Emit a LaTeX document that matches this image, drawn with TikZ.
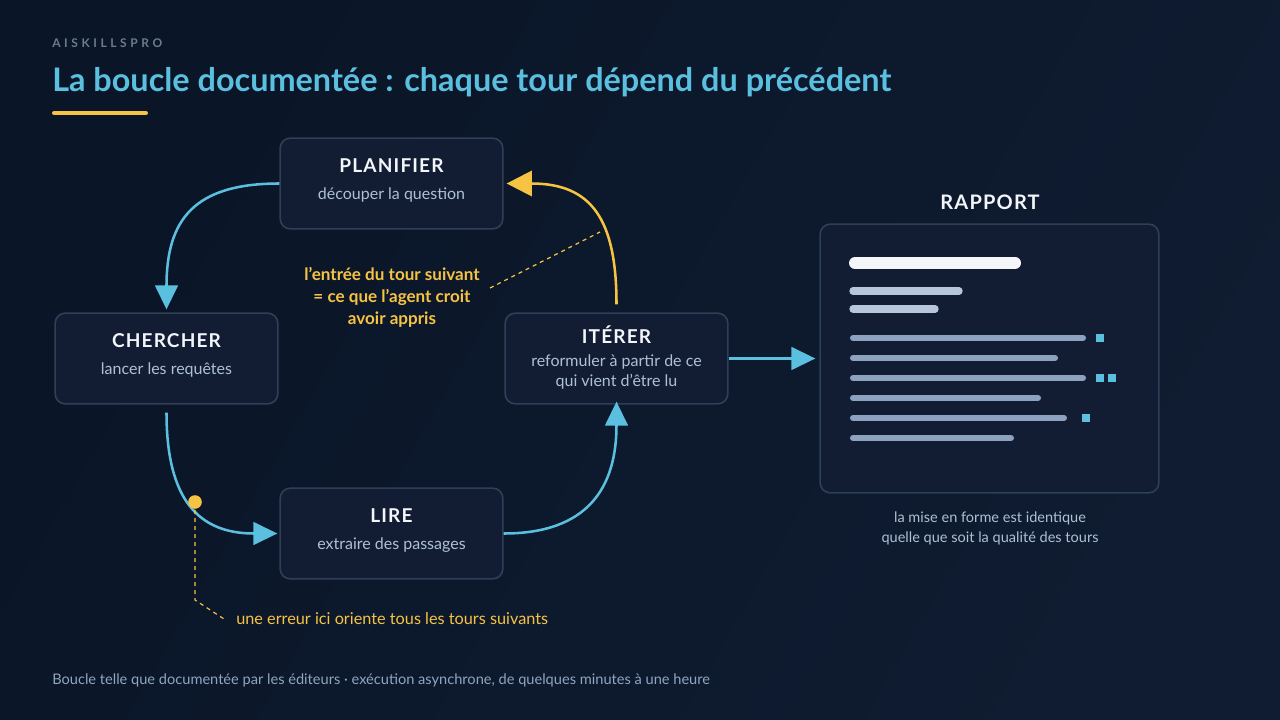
\documentclass[tikz,border=0pt]{standalone}
\usepackage{fontspec}
\setmainfont{Lato}
\usetikzlibrary{arrows.meta,calc}
\definecolor{bgA}{HTML}{0A1527}
\definecolor{bgB}{HTML}{0F1C31}
\definecolor{boxfill}{HTML}{121D33}
\definecolor{boxline}{HTML}{2F3F58}
\definecolor{cyanc}{HTML}{5BC0E0}
\definecolor{yell}{HTML}{F6C343}
\definecolor{headc}{HTML}{F2F5FA}
\definecolor{subc}{HTML}{AFC0D4}
\definecolor{brandc}{HTML}{6B7B92}
\definecolor{footc}{HTML}{8FA6C0}
\definecolor{barA}{HTML}{F4F6FA}
\definecolor{barB}{HTML}{B7C6DA}
\definecolor{barC}{HTML}{8DA2BE}
\tikzset{
  stagebox/.style={draw=boxline, line width=1.2pt, fill=boxfill, rounded corners=7.5pt,
    minimum width=167pt, minimum height=68pt, inner sep=0pt},
  stagehead/.style={text=headc, font=\fontsize{14.3}{16}\selectfont\bfseries\addfontfeatures{LetterSpace=6}},
  stagesub/.style={text=subc, font=\fontsize{12}{15}\selectfont, align=center},
  flow/.style={draw=cyanc, line width=1.9pt, -{Triangle[length=18pt,width=17pt]}},
  feedback/.style={draw=yell, line width=1.9pt, -{Triangle[length=19pt,width=19pt]}},
  notetext/.style={text=yell, font=\fontsize{12.8}{16.5}\selectfont\bfseries, align=center},
  noteline/.style={draw=yell, line width=0.9pt, dash pattern=on 3pt off 3pt},
  bar/.style={line cap=round},
}
\begin{document}
\begin{tikzpicture}[x=0.75pt,y=-0.75pt]
% background
\useasboundingbox (0,0) rectangle (1280,720);
\shade[left color=bgA, right color=bgB, shading angle=60] (0,0) rectangle (1280,720);

% header
\node[anchor=west, text=brandc, font=\fontsize{9}{10}\selectfont\bfseries\addfontfeatures{LetterSpace=30}, inner sep=0pt] (brand) at (52,43) {AISKILLSPRO};
\node[anchor=west, text=cyanc, font=\fontsize{24.3}{27}\selectfont\bfseries, inner sep=0pt] (title) at (52,82) {La boucle documentée : chaque tour dépend du précédent};
\draw[yell, line width=3pt, line cap=round] (54,113) -- (146,113);

% stages
\node[stagebox] (plan) at (391.5,183.5) {};
\node[stagebox] (cherch) at (166.5,358.5) {};
\node[stagebox] (iter) at (616.5,358.5) {};
\node[stagebox] (lire) at (391.5,533.5) {};

\node[stagehead] (planT) at ($(plan.north)+(0,28)$) {PLANIFIER};
\node[stagesub] (planS) at ($(plan.north)+(0,58)$) {découper la question};
\node[stagehead] (cherchT) at ($(cherch.north)+(0,28)$) {CHERCHER};
\node[stagesub] (cherchS) at ($(cherch.north)+(0,58)$) {lancer les requêtes};
\node[stagehead] (iterT) at ($(iter.north)+(0,22)$) {ITÉRER};
\node[stagesub] (iterS) at ($(iter.north)+(0,60)$) {reformuler à partir de ce\\qui vient d'être lu};
\node[stagehead] (lireT) at ($(lire.north)+(0,28)$) {LIRE};
\node[stagesub] (lireS) at ($(lire.north)+(0,58)$) {extraire des passages};

% loop connectors
\draw[flow] (plan.west) .. controls +(-85,0) and +(0,-90) .. ($(cherch.north)+(0,-3)$);
\draw[flow] ($(cherch.south)+(0,8)$) .. controls +(0,88) and +(-78,0) .. ($(lire.west)+(-2,0)$);
\draw[flow] (lire.east) .. controls +(85,0) and +(0,85) .. ($(iter.south)+(0,-3)$);
\draw[feedback] ($(iter.north)+(0,-8)$) .. controls +(0,-85) and +(85,0) .. ($(plan.east)+(3,0)$);

% output to report
\node[draw=boxline, line width=1.2pt, fill=boxfill, rounded corners=7.5pt, minimum width=254pt, minimum height=201.5pt, inner sep=0pt] (rapport) at (989.5,358.5) {};
\draw[flow] (iter.east) -- ($(rapport.west)+(-4,0)$);
\node[text=headc, font=\fontsize{15}{17}\selectfont\bfseries\addfontfeatures{LetterSpace=6}] (rapT) at (990,202) {RAPPORT};

% report content
\draw[barA, bar, line width=9pt] (855,263) -- (1015,263);
\draw[barB, bar, line width=5.5pt] (853,291) -- (959,291);
\draw[barB, bar, line width=5.5pt] (853,309) -- (935,309);
\foreach \yy/\xe in {338/1083, 358/1055, 378/1083, 398/1038, 418/1064, 438/1011}
  \draw[barC, bar, line width=4.5pt] (853,\yy) -- (\xe,\yy);
\fill[cyanc] (1096,334) rectangle (1104,342);
\fill[cyanc] (1096,374) rectangle (1104,382);
\fill[cyanc] (1108,374) rectangle (1116,382);
\fill[cyanc] (1082,414) rectangle (1090,422);

\node[text=subc, font=\fontsize{10.9}{15}\selectfont, align=center] (rapS) at (990,528) {la mise en forme est identique\\quelle que soit la qualité des tours};

% annotations
\node[notetext] (noteA) at (392,297) {l'entrée du tour suivant\\= ce que l'agent croit\\avoir appris};
\coordinate (noteAend) at (600,232);
\draw[noteline] (490,288) -- (noteAend);

\coordinate (errpt) at (195,502);
\node[text=yell, font=\fontsize{12.2}{14}\selectfont, anchor=west, inner sep=0pt] (noteB) at (236,619) {une erreur ici oriente tous les tours suivants};
\draw[noteline] (errpt) -- (195,600) -- ($(noteB.west)+(-12,0)$);
\fill[yell] (errpt) circle (6.8);

% footer
\node[anchor=west, text=footc, font=\fontsize{10.95}{12}\selectfont, inner sep=0pt] (foot) at (52,680) {Boucle telle que documentée par les éditeurs · exécution asynchrone, de quelques minutes à une heure};
\end{tikzpicture}
\end{document}
